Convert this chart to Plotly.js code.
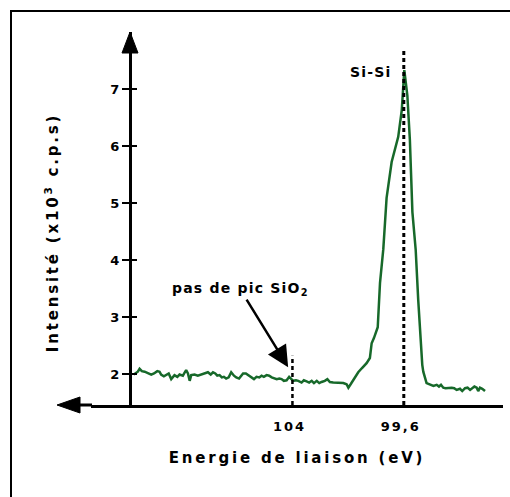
<!DOCTYPE html>
<html>
<head>
<meta charset="utf-8">
<script src="https://cdn.plot.ly/plotly-3.0.1.min.js"></script>
<style>
  html, body { margin: 0; padding: 0; background: #fff; }
  #chart { width: 510px; height: 497px; }
  .xtitle, .ytitle { letter-spacing: 2.8px; }
  .ytitle { translate: 0px 14px; }
  .xtick text { letter-spacing: 2px; }
  .annotation-text { letter-spacing: 1.2px; }
</style>
</head>
<body>
<div id="chart"></div>
<script>
// ---- data (binding energy in eV, intensity in 10^3 c.p.s) ----
const energies = [
  110.27,110.21,110.11,110.04,109.95,109.84,109.71,109.58,109.47,109.34,
  109.25,109.19,109.08,108.99,108.89,108.79,108.72,108.66,108.55,108.46,
  108.33,108.20,108.13,108.06,108.00,107.87,107.74,107.60,107.47,107.34,
  107.23,107.14,107.05,106.97,106.88,106.79,106.71,106.62,106.52,106.42,
  106.31,106.22,106.11,105.95,105.84,105.71,105.61,105.52,105.42,105.31,
  105.22,105.13,105.02,104.92,104.82,104.72,104.62,104.52,104.43,104.34,
  104.23,104.13,104.03,103.97,103.86,103.77,103.64,103.55,103.44,103.34,
  103.24,103.15,103.04,102.94,102.85,102.72,102.62,102.52,102.39,102.25,
  102.12,101.99,101.86,101.79,101.70,101.60,101.49,101.40,101.26,101.07,
  100.94,100.87,100.78,100.63,100.54,100.41,100.28,100.08,99.82,99.68,
  99.58,99.46,99.36,99.26,99.13,99.03,98.87,98.83,98.70,98.57,
  98.43,98.30,98.21,98.13,98.04,97.95,97.84,97.71,97.61,97.51,
  97.38,97.29,97.18,97.08,96.98,96.89,96.81,96.72,96.66,96.59,
  96.50,96.39
];
const intensities = [
  1.99,2.01,2.04,2.09,2.05,2.04,2.02,1.99,2.01,2.05,
  2.04,1.99,1.96,1.99,2.01,1.91,1.96,1.98,1.95,1.99,
  1.97,2.07,2.01,1.88,1.98,1.99,1.97,1.99,2.01,2.03,
  1.99,2.03,2.01,1.97,1.98,1.94,1.95,1.92,1.94,2.03,
  1.97,1.94,1.92,2.01,2.01,1.97,1.94,1.91,1.95,1.94,
  1.97,1.95,1.98,1.97,1.94,1.92,1.91,1.92,1.91,1.88,
  1.89,1.95,1.91,1.88,1.89,1.88,1.85,1.89,1.87,1.85,
  1.88,1.84,1.88,1.84,1.86,1.88,1.91,1.86,1.85,1.85,
  1.85,1.84,1.82,1.76,1.82,1.89,1.97,2.03,2.10,2.19,
  2.28,2.54,2.63,2.82,3.60,4.19,5.09,5.72,6.16,6.63,
  7.33,6.89,6.11,4.84,4.18,3.30,2.16,2.04,1.84,1.81,
  1.79,1.81,1.78,1.81,1.76,1.75,1.76,1.76,1.75,1.72,
  1.74,1.70,1.75,1.76,1.72,1.75,1.78,1.76,1.70,1.76,
  1.74,1.70
];
const xTickVals = [104, 99.6];
const xTickText = ['104', '99,6'];
const yTickVals = [2, 3, 4, 5, 6, 7];
const markerEnergies = [104, 99.6];     // dashed reference lines
const markerTops = [2.32, 7.68];
const markerWidths = [2.5, 3];
const peakLabel = 'Si-Si';
const peakLabelPos = [100.90, 7.30];
const noteLabel = 'pas de pic SiO<sub>2</sub>';
const noteArrowTip = [104.17, 2.12];

// ---- layout geometry (pixels) ----
const FW = 510, FH = 497;
const L = 91, R = 7, T = 32, B = 92;
const W = FW - L - R, H = FH - T - B;
const fx = px => (px - L) / W;
const fy = py => (FH - B - py) / H;
const X_RANGE = [111.96, 95.68];
const Y_RANGE = [1.456, 8.0];
const yAxisPos = fx(130);

const FONT = 'DejaVu Sans, Verdana, sans-serif';
const GREEN = '#17692a';

const trace = {
  x: energies, y: intensities, type: 'scatter', mode: 'lines',
  line: { color: GREEN, width: 2.5 }, hoverinfo: 'skip', showlegend: false
};

const shapes = [];
// outer frame (left and top edges)
shapes.push({
  type: 'path', xref: 'paper', yref: 'paper', layer: 'above',
  path: `M ${fx(11)},${fy(FH)} L ${fx(11)},${fy(11)} L ${fx(FW)},${fy(11)}`,
  line: { color: '#000', width: 2 }
});
// x-axis arrow (extension to the left + head)
shapes.push({
  type: 'line', xref: 'paper', yref: 'paper', xsizemode: 'pixel', xanchor: 0,
  x0: -14, x1: 1, y0: 0, y1: 0, line: { color: '#000', width: 3 }, layer: 'above'
});
shapes.push({
  type: 'path', xref: 'paper', yref: 'paper', xsizemode: 'pixel', ysizemode: 'pixel',
  xanchor: 0, yanchor: 0, path: 'M -34,0 L -11,8 L -11,-8 Z',
  fillcolor: '#000', line: { color: '#000', width: 1 }, layer: 'above'
});
// y-axis arrow head
shapes.push({
  type: 'path', xref: 'paper', yref: 'paper', xsizemode: 'pixel', ysizemode: 'pixel',
  xanchor: yAxisPos, yanchor: 1, path: 'M 0,0 L -8,-21 L 8,-21 Z',
  fillcolor: '#000', line: { color: '#000', width: 1 }, layer: 'above'
});
// inner half of the crossing y ticks
yTickVals.forEach(v => shapes.push({
  type: 'line', xref: 'paper', yref: 'y', xsizemode: 'pixel', xanchor: yAxisPos,
  x0: 0, x1: 7, y0: v, y1: v, line: { color: '#000', width: 2 }, layer: 'above'
}));
// dashed reference lines
markerEnergies.forEach((e, i) => shapes.push({
  type: 'line', xref: 'x', yref: 'y', x0: e, x1: e, y0: Y_RANGE[0], y1: markerTops[i],
  line: { color: '#000', width: markerWidths[i], dash: '4px,3px' }, layer: 'above'
}));

const annFont = { family: FONT, size: 14, color: '#000', weight: 'bold' };
const annotations = [
  { x: peakLabelPos[0], y: peakLabelPos[1], xref: 'x', yref: 'y', text: peakLabel,
    showarrow: false, font: annFont },
  { x: noteArrowTip[0], y: noteArrowTip[1], xref: 'x', yref: 'y', text: noteLabel,
    xanchor: 'center', yanchor: 'middle', font: annFont,
    showarrow: true, ax: -48, ay: -78, arrowhead: 2, arrowsize: 1.7, arrowwidth: 2.5,
    arrowcolor: '#000' }
];

const layout = {
  width: FW, height: FH,
  margin: { l: L, r: R, t: T, b: B, pad: 0 },
  paper_bgcolor: '#fff', plot_bgcolor: 'rgba(0,0,0,0)',
  showlegend: false,
  font: { family: FONT, color: '#000' },
  xaxis: {
    range: X_RANGE, showgrid: false, zeroline: false,
    showline: true, linecolor: '#000', linewidth: 3,
    tickmode: 'array', tickvals: xTickVals, ticktext: xTickText,
    ticks: '', ticklabelstandoff: 7, ticklabelshift: 3,
    tickfont: { family: FONT, size: 13, color: '#000', weight: 'bold' },
    title: { text: 'Energie de liaison (eV)', standoff: 20,
      font: { family: FONT, size: 15, color: '#000', weight: 'bold' } },
    fixedrange: true
  },
  yaxis: {
    range: Y_RANGE, showgrid: false, zeroline: false,
    anchor: 'free', position: yAxisPos,
    showline: true, linecolor: '#000', linewidth: 2.5,
    tickmode: 'array', tickvals: yTickVals,
    ticks: 'outside', ticklen: 7, tickwidth: 2, tickcolor: '#000',
    tickfont: { family: FONT, size: 13, color: '#000', weight: 'bold' },
    title: { text: 'Intensité (x10<sup>3</sup> c.p.s)', standoff: 47,
      font: { family: FONT, size: 15, color: '#000', weight: 'bold' } },
    fixedrange: true
  },
  shapes: shapes,
  annotations: annotations
};

Plotly.newPlot('chart', [trace], layout, { displayModeBar: false, staticPlot: true })
  .then(gd => {
    // drop empty placeholder text nodes that Plotly leaves behind
    gd.querySelectorAll('text').forEach(t => {
      if (!t.textContent.trim()) t.remove();
    });
  });
</script>
</body>
</html>
